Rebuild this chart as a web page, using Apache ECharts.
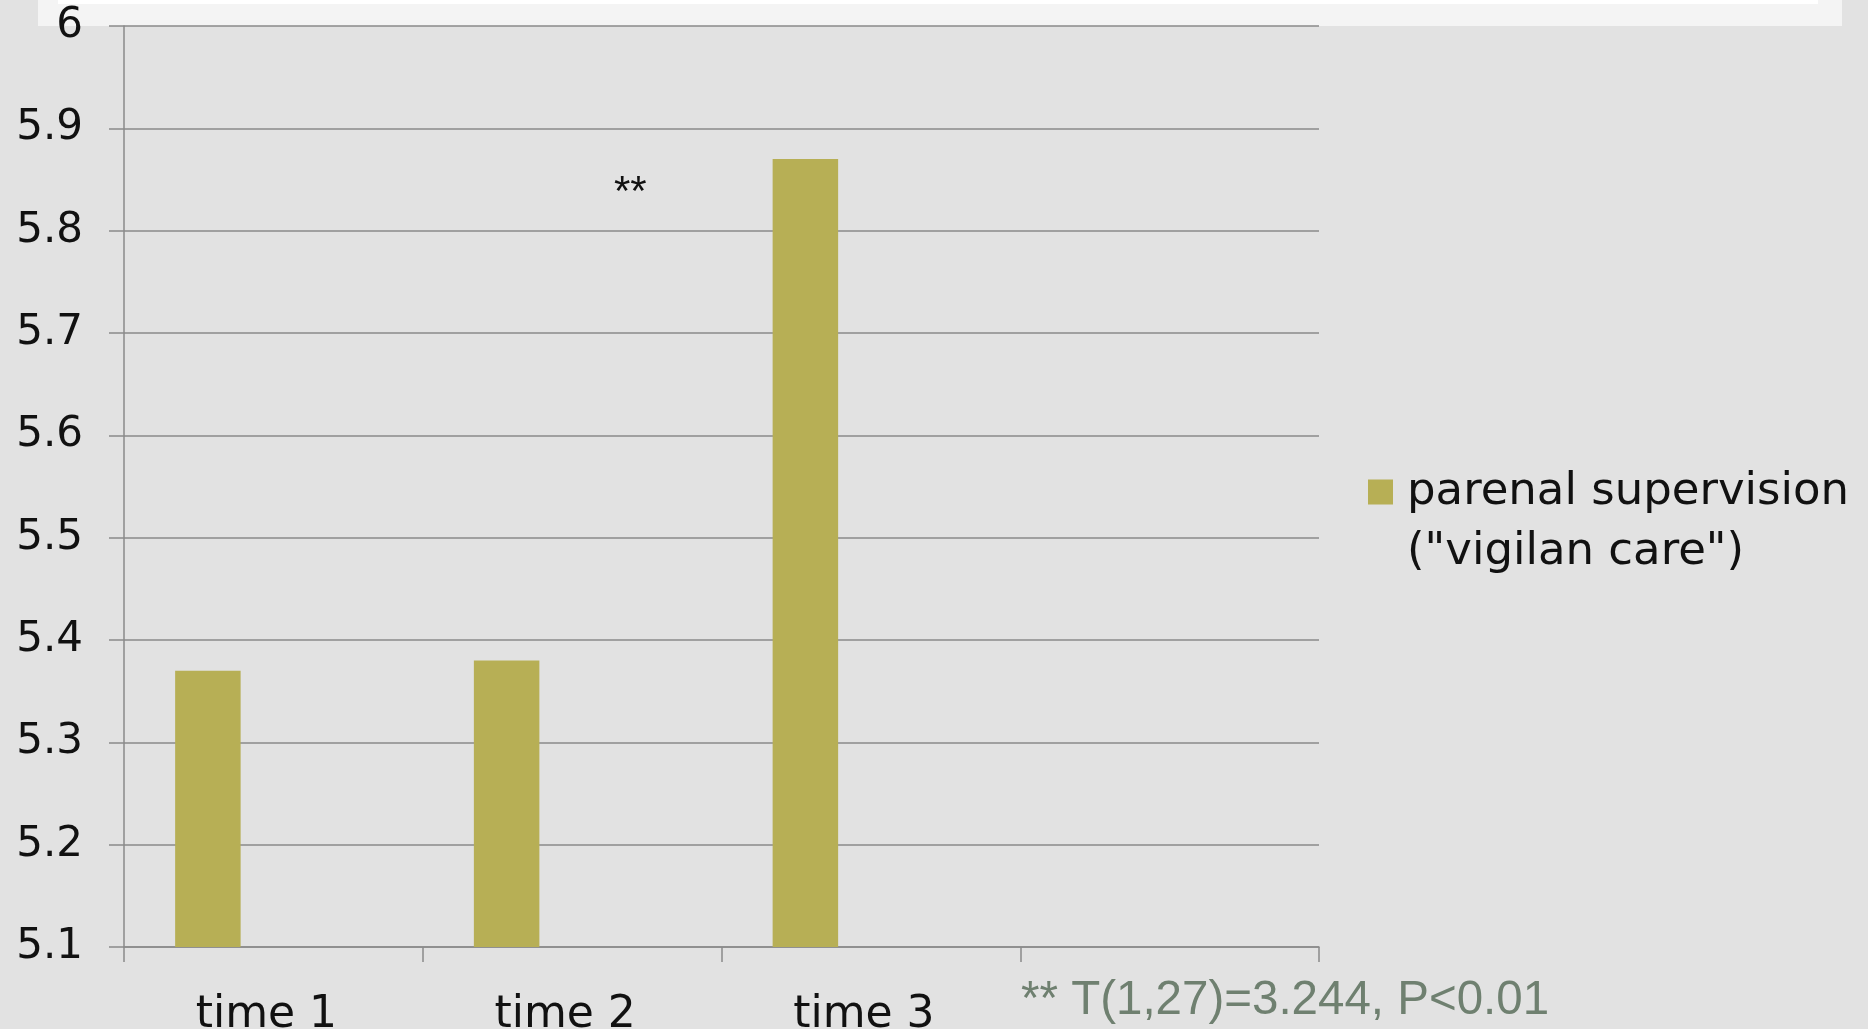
<!DOCTYPE html>
<html>
<head>
<meta charset="utf-8">
<script src="https://cdn.jsdelivr.net/npm/echarts@6/dist/echarts.min.js"></script>
<style>
html,body{margin:0;padding:0;background:#e2e2e2;}
#chart{width:1868px;height:1029px;}
</style>
</head>
<body>
<div id="chart"></div>
<script>
const categories = ['time 1', 'time 2', 'time 3', ''];
const seriesName = 'parenal supervision ("vigilan care")';
const supervision = [5.37, 5.38, 5.87, '-'];
const blankA = ['-', '-', '-', '-'];
const blankB = ['-', '-', '-', '-'];
const yMin = 5.1, yMax = 6, yStep = 0.1;
const starLabel = '**';
const footnote = '** T(1,27)=3.244, P<0.01';

const chart = echarts.init(document.getElementById('chart'));
const lineColor = '#8a8a8a';
const option = {
  backgroundColor: '#e2e2e2',
  animation: false,
  grid: { left: 124, right: 549, top: 26, bottom: 82, containLabel: false, outerBoundsMode: 'none' },
  legend: {
    data: [seriesName],
    left: 1368, top: 402, padding: 0,
    orient: 'vertical',
    icon: 'rect', itemWidth: 25, itemHeight: 25,
    formatter: n => '\n' + n.replace(' (', '\n('),
    textStyle: { fontFamily: 'DejaVu Sans', fontSize: 45, color: '#111', lineHeight: 60, padding: [0, 0, 0, 9] }
  },
  xAxis: {
    type: 'category', data: categories,
    axisLine: { lineStyle: { color: lineColor, width: 1.5 } },
    axisTick: { show: true, length: 15, lineStyle: { color: lineColor, width: 1.5 } },
    axisLabel: { fontFamily: 'DejaVu Sans', fontSize: 44, color: '#111', margin: 47, padding: [0, 14, 0, 0] }
  },
  yAxis: {
    type: 'value', min: yMin, max: yMax, interval: yStep,
    axisLine: { show: true, lineStyle: { color: lineColor, width: 1.5 } },
    axisTick: { show: true, length: 15, lineStyle: { color: lineColor, width: 1.5 } },
    splitLine: { lineStyle: { color: lineColor, width: 1.5 } },
    axisLabel: { fontFamily: 'DejaVu Sans', fontSize: 42, color: '#111', margin: 41,
      formatter: v => String(Math.round(v * 10) / 10) }
  },
  graphic: [
    { type: 'rect', z: -10, shape: { x: 38, y: 0, width: 1804, height: 26 }, style: { fill: '#f4f4f4' } },
    { type: 'rect', z: -9, shape: { x: 58, y: 0, width: 1760, height: 4 }, style: { fill: '#ffffff' } },
    { type: 'text', left: 614, top: 172, style: { text: starLabel, fontFamily: 'Liberation Sans', fontSize: 42, fill: '#111' } },
    { type: 'text', left: 1021, top: 977, style: { text: footnote, fontFamily: 'Liberation Sans', fontSize: 47.5, fill: '#6f8070' } }
  ],
  series: [
    { name: seriesName, type: 'bar', data: supervision, barWidth: 65.5, barGap: '0%', itemStyle: { color: '#b7af55' } },
    { name: 'blankA', type: 'bar', data: blankA, barWidth: 65.5, barGap: '0%' },
    { name: 'blankB', type: 'bar', data: blankB, barWidth: 65.5, barGap: '0%' }
  ]
};
chart.setOption(option);
</script>
</body>
</html>
